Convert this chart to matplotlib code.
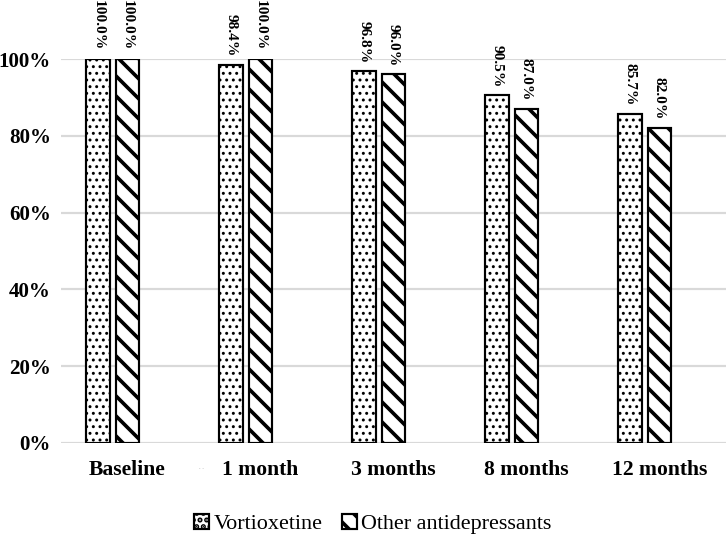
import matplotlib
matplotlib.use("Agg")
import matplotlib.pyplot as plt
import numpy as np
from matplotlib.ticker import PercentFormatter

categories = ["Baseline", "1 month", "3 months", "8 months", "12 months"]
vortioxetine = [100.0, 98.4, 96.8, 90.5, 85.7]
other = [100.0, 100.0, 96.0, 87.0, 82.0]
series_names = ["Vortioxetine", "Other antidepressants"]

plt.rcParams['font.family'] = ['Liberation Serif', 'DejaVu Serif']

DPI = 120
fig = plt.figure(figsize=(727 / DPI, 538 / DPI), dpi=DPI)
ax = fig.add_axes([0.0839, 0.1766, 0.9147, 0.7137])

x = np.arange(len(categories))
w = 0.18
plt.rcParams['hatch.linewidth'] = 1.0
b1 = ax.bar(x - 0.22, [v / 100 for v in vortioxetine], width=w, facecolor='white',
            edgecolor='black', linewidth=1.3, hatch='...', label=series_names[0], zorder=3)
plt.rcParams['hatch.linewidth'] = 2.2
b2 = ax.bar(x, [v / 100 for v in other], width=w, facecolor='white',
            edgecolor='black', linewidth=1.3, hatch='\\\\', label=series_names[1], zorder=3)

for bars, vals in ((b1, vortioxetine), (b2, other)):
    for rect, v in zip(bars, vals):
        ax.annotate(f"{v:.1f}%", (rect.get_x() + rect.get_width() / 2, rect.get_height()),
                    xytext=(0, 5.0), textcoords='offset points', rotation=-90,
                    ha='center', va='bottom', fontsize=9.2, fontweight='bold',
                    annotation_clip=False)

ax.set_xlim(-0.5, 4.5)
ax.set_ylim(0, 1.0)
ax.set_yticks(np.arange(0, 1.01, 0.2))
ax.yaxis.set_major_formatter(PercentFormatter(1.0, decimals=0))
ax.set_xticks(x)
ax.set_xticklabels(categories)
for lab in ax.get_xticklabels():
    lab.set_fontweight('bold')
    lab.set_fontsize(13)
for lab in ax.get_yticklabels():
    lab.set_fontweight('bold')
    lab.set_fontsize(12.6)
ax.tick_params(axis='both', length=0)
ax.tick_params(axis='y', pad=6.0)
ax.tick_params(axis='x', pad=10.5)
ax.grid(axis='y', color='#d9d9d9', linewidth=1.3, zorder=0)
ax.set_axisbelow(True)
for s in ax.spines.values():
    s.set_visible(False)

fig.text(0.277, 0.128, ". .", fontsize=4, color='#999999', ha='center')

leg = fig.legend(handles=[b1, b2], labels=series_names, loc='lower center',
                 bbox_to_anchor=(0.513, -0.03), ncol=2, frameon=False, fontsize=13.3,
                 handlelength=0.65, handleheight=0.65, handletextpad=0.2, columnspacing=0.9)

fig.savefig("out.png", dpi=DPI)
